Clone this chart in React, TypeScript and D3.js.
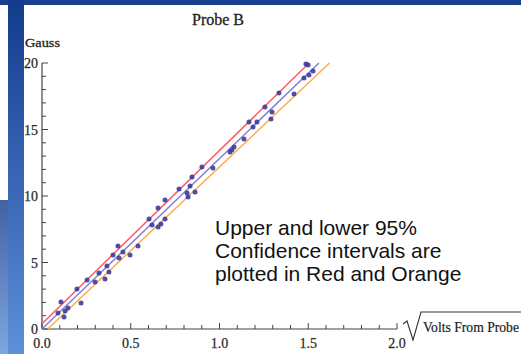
import React from "react";
import * as d3 from "d3";

const W = 521;
const H = 354;

// measured points: [sqrt(volts), gauss]
const xs = [0.09,0.107,0.124,0.13,0.146,0.197,0.22,0.254,0.299,0.321,0.355,0.366,0.377,0.4,0.428,0.434,0.456,0.496,0.541,0.603,0.62,0.654,0.654,0.67,0.693,0.693,0.772,0.817,0.823,0.834,0.845,0.862,0.901,0.963,1.059,1.07,1.082,1.138,1.166,1.189,1.211,1.256,1.29,1.296,1.335,1.42,1.476,1.487,1.499,1.504,1.527];
const ys = [1.2,2.03,0.9,1.35,1.58,3.01,1.95,3.68,3.53,4.21,3.76,4.74,4.29,5.56,6.24,5.34,5.79,5.56,6.24,8.27,7.82,9.1,7.67,7.89,9.7,8.27,10.53,10.23,9.92,10.75,11.43,10.3,12.18,12.11,13.31,13.46,13.68,14.29,15.56,15.19,15.56,16.69,15.79,16.32,17.74,17.67,18.87,19.92,19.85,19.1,19.4];

// fit & confidence lines: [x0, y0, x1, y1]
const fitLine = [0, 0, 1.56, 20];
const upperLine = [0, 0.4, 1.505, 20];
const lowerLine = [0.032, 0, 1.62, 20];

const xMajor = [0, 0.5, 1.0, 1.5, 2.0];
const xMinor = d3.range(0, 2.0001, 0.1);
const yMajor = [0, 5, 10, 15, 20];
const yMinor = d3.range(0, 20.001, 1);

const annotation = ["Upper and lower 95%", "Confidence intervals are", "plotted in Red and Orange"];

export default function App() {
  const x = d3.scaleLinear().domain([0, 2]).range([42, 397]);
  const y = d3.scaleLinear().domain([0, 20]).range([329, 63]);
  const serif = "'Liberation Serif', 'Times New Roman', serif";
  const axisColor = "#444";
  const seg = (l: number[]) => d3.line()([[x(l[0]), y(l[1])], [x(l[2]), y(l[3])]]) || "";

  return (
    <svg width={W} height={H} style={{ position: "absolute", left: 0, top: 0 }} xmlns="http://www.w3.org/2000/svg">
      <defs>
        <linearGradient id="side" x1="0" y1="0" x2="0" y2="1">
          <stop offset="0" stopColor="#143a8c" />
          <stop offset="1" stopColor="#5d90d8" />
        </linearGradient>
      </defs>
      <rect x={0} y={0} width={W} height={H} fill="#fff" />
      <rect x={0} y={0} width={W} height={5} fill="#1a3f8e" />
      <rect x={8} y={0} width={16} height={H} fill="url(#side)" />
      <rect x={0} y={200} width={8} height={H - 200} fill="url(#side)" opacity={0.8} />

      {/* title */}
      <text x={218} y={25} fontFamily={serif} fontSize={16} textAnchor="middle" fill="#222" stroke="#222" strokeWidth={0.3}>Probe B</text>
      <text x={25} y={47} fontFamily={serif} fontSize={13} fill="#222" stroke="#222" strokeWidth={0.3} textLength={35} lengthAdjust="spacingAndGlyphs">Gauss</text>

      {/* axes */}
      <line x1={x(0)} x2={x(2)} y1={y(0)} y2={y(0)} stroke={axisColor} strokeWidth={1.2} />
      <line x1={x(0)} x2={x(0)} y1={y(0)} y2={y(20)} stroke={axisColor} strokeWidth={1.2} />
      {xMinor.map((v, i) => {
        const major = Math.abs(v * 2 - Math.round(v * 2)) < 1e-6;
        return <line key={"xm" + i} x1={x(v)} x2={x(v)} y1={y(0)} y2={y(0) - (major ? 6 : 4)} stroke={axisColor} strokeWidth={1} />;
      })}
      {yMinor.map((v, i) => {
        const major = v % 5 === 0;
        return <line key={"ym" + i} x1={x(0)} x2={x(0) + (major ? 6 : 4)} y1={y(v)} y2={y(v)} stroke={axisColor} strokeWidth={1} />;
      })}
      {xMajor.map((v, i) => (
        <text key={"xl" + i} x={x(v)} y={348} fontFamily={serif} fontSize={14} textAnchor="middle" fill="#2a2a2a" stroke="#2a2a2a" strokeWidth={0.25}>{v.toFixed(1)}</text>
      ))}
      {yMajor.map((v, i) => (
        <text key={"yl" + i} x={38} y={y(v) + 5} fontFamily={serif} fontSize={14} textAnchor="end" fill="#2a2a2a" stroke="#2a2a2a" strokeWidth={0.25}>{v}</text>
      ))}

      {/* x axis label with sqrt */}
      <path d="M403,324 L407,321 L413,340 L421,312 L521,312" fill="none" stroke="#333" strokeWidth={1.1} />
      <text x={423} y={332} fontFamily={serif} fontSize={14} fill="#222" stroke="#222" strokeWidth={0.2} textLength={96} lengthAdjust="spacingAndGlyphs">Volts From Probe</text>

      {/* lines */}
      <path d={seg(upperLine)} stroke="#ff5a66" strokeWidth={1.5} fill="none" />
      <path d={seg(lowerLine)} stroke="#ffaa4c" strokeWidth={1.5} fill="none" />
      <path d={seg(fitLine)} stroke="#8282d4" strokeWidth={1.5} fill="none" />

      {/* points */}
      {xs.map((v, i) => (
        <circle key={"p" + i} cx={x(v)} cy={y(ys[i])} r={2.5} fill="#3c3c9c" opacity={0.9} />
      ))}

      {/* annotation */}
      {annotation.map((t, i) => (
        <text key={"a" + i} x={215} y={235 + i * 23} fontFamily="'Liberation Sans', Arial, sans-serif" fontSize={21} fill="#111">{t}</text>
      ))}
    </svg>
  );
}
